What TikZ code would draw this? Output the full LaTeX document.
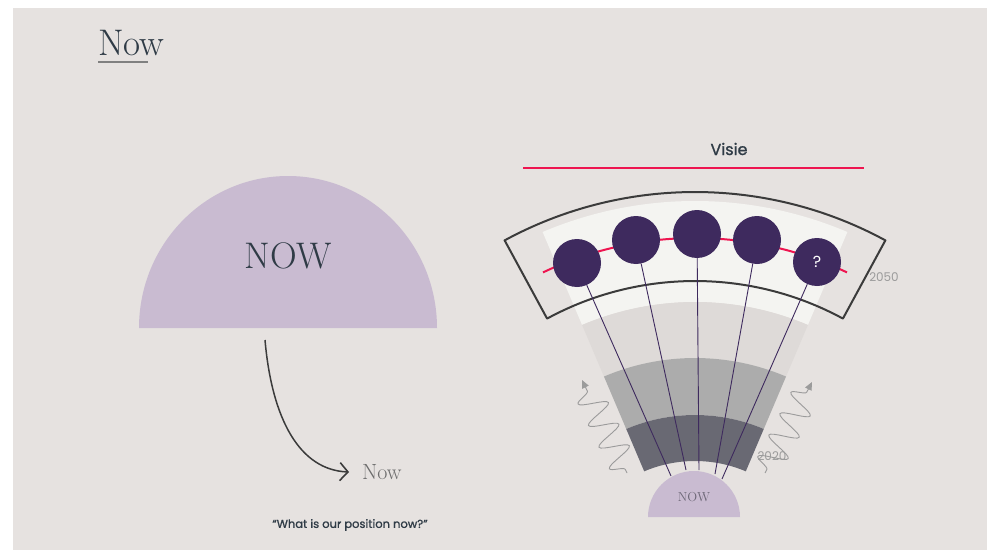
\documentclass[tikz,border=0pt]{standalone}
\usepackage{fontspec}
\newfontfamily\pop{Poppins}
\newfontfamily\popm{Poppins}[FakeBold=1.2]
\usetikzlibrary{decorations.pathmorphing,arrows.meta,calc}
\definecolor{bg}{HTML}{E6E2E0}
\definecolor{lilac}{HTML}{C9BBD1}
\definecolor{ink}{HTML}{2F3B46}
\definecolor{darkband}{HTML}{696973}
\definecolor{midband}{HTML}{ACACAC}
\definecolor{lightband}{HTML}{DEDAD8}
\definecolor{whiteband}{HTML}{F4F4F1}
\definecolor{plum}{HTML}{3E2A5E}
\definecolor{crimson}{HTML}{EE1550}
\definecolor{framec}{HTML}{3B3B3B}
\definecolor{softgray}{HTML}{9B9B9B}
\tikzset{
  dot/.style={circle,fill=plum,minimum size=48pt,inner sep=0pt,text=white,font=\pop\fontsize{16}{18}\selectfont},
  stem/.style={draw=plum,line width=0.9pt},
  squig/.style={draw=softgray,line width=0.9pt,decorate,
     decoration={snake,amplitude=14pt,segment length=24pt,pre length=4pt,post length=10pt},
     -{Triangle[length=8pt,width=7pt]}},
  yearlbl/.style={text=softgray,font=\pop\fontsize{12}{14}\selectfont,inner sep=0pt},
}
\begin{document}
\begin{tikzpicture}[x=1pt,y=1pt]
\useasboundingbox (0,0) rectangle (993,550);
\fill[white] (0,0) rectangle (993,550);
\fill[bg] (13,0) rectangle (987,542);

% Title
\node[text=ink,font=\fontsize{37}{42}\selectfont,inner sep=0pt,anchor=base west] (title) at (98,494) {Now};
\draw[gray,line width=1.5pt] (98,488) -- (148,488);

% big semicircle
\coordinate (bc) at (288,222);
\fill[lilac] ($(bc)+(149,0)$) arc[start angle=0,end angle=180,x radius=149,y radius=152] -- cycle;
\node[text=ink,font=\fontsize{37}{42}\selectfont,inner sep=0pt] (bignow) at (288,294) {NOW};

% curved arrow
\coordinate (as) at (265,210);
\coordinate (ae) at (349,78);
\node[text=gray!85!black,font=\fontsize{22}{26}\selectfont,inner sep=0pt,anchor=west] (nowlbl) at (362,78) {Now};
\draw[framec,line width=1.5pt,-{Straight Barb[length=8pt,width=18pt,line width=1.6pt]}]
  (as) .. controls (272,130) and (300,80) .. (ae);

\node[text=ink,font=\popm\fontsize{11.5}{13}\selectfont,inner sep=0pt] (quote) at (350,25) {“What is our position now?”};

% Visie
\node[text=ink,font=\popm\fontsize{16}{18}\selectfont,inner sep=0pt] (visie) at (729,401) {Visie};
\draw[crimson,line width=2.5pt] (523,382) -- (864,382);

% fan
\coordinate (fc) at (695,-41);
\fill[whiteband] ($(fc)+(67:390)$) arc[start angle=67,end angle=113,radius=390] -- ($(fc)+(113:289)$) arc[start angle=113,end angle=67,radius=289] -- cycle;
\fill[lightband] ($(fc)+(67:289)$) arc[start angle=67,end angle=113,radius=289] -- ($(fc)+(113:233)$) arc[start angle=113,end angle=67,radius=233] -- cycle;
\fill[midband] ($(fc)+(67:233)$) arc[start angle=67,end angle=113,radius=233] -- ($(fc)+(113:176)$) arc[start angle=113,end angle=67,radius=176] -- cycle;
\fill[darkband] ($(fc)+(67:176)$) arc[start angle=67,end angle=113,radius=176] -- ($(fc)+(113:130)$) arc[start angle=113,end angle=67,radius=130] -- cycle;

% frame
\draw[framec,line width=2pt,line join=round] ($(fc)+(61.5:399)$) arc[start angle=61.5,end angle=118.5,radius=399] -- ($(fc)+(118.5:310)$) arc[start angle=118.5,end angle=61.5,radius=310] -- cycle;

% red arc
\draw[crimson,line width=2pt] ($(fc)+(64.5:353)$) arc[start angle=64.5,end angle=115.5,radius=353];

% circles
\node[dot] (c1) at (577,287) {};
\node[dot] (c2) at (636,310) {};
\node[dot] (c3) at (697,316) {};
\node[dot] (c4) at (757,310) {};
\node[dot] (c5) at (817,288) {?};

% stem ends
\coordinate (e1) at (671,74);
\coordinate (e2) at (686,80);
\coordinate (e3) at (699,80);
\coordinate (e4) at (715,76);
\coordinate (e5) at (722,71);
\foreach \i in {1,...,5} \draw[stem] (c\i) -- (e\i);

% small semicircle
\coordinate (sc) at (694,33);
\fill[lilac] ($(sc)+(46,0)$) arc[start angle=0,end angle=180,radius=46] -- cycle;
\node[text=gray!70!plum,font=\fontsize{13}{15}\selectfont,inner sep=0pt] (smallnow) at (694,53) {NOW};

% years
\node[yearlbl] (y2050) at (884,273) {2050};
\node[yearlbl] (y2020) at (772,94) {2020};

% squiggly arrows
\coordinate (ls) at (627,77);
\coordinate (le) at (582,170);
\coordinate (rs) at (765,77);
\coordinate (re) at (812,168);
\draw[squig] (ls) -- (le);
\draw[squig] (rs) -- (re);
\end{tikzpicture}
\end{document}
